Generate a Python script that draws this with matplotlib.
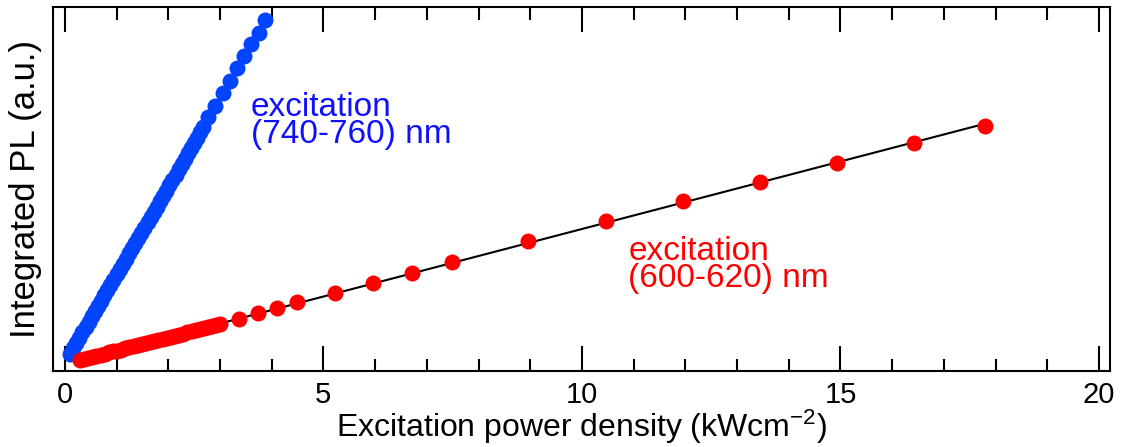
import numpy as np
import matplotlib.pyplot as plt
from matplotlib.ticker import MultipleLocator

plt.rcParams['font.family'] = ['Liberation Sans', 'DejaVu Sans']
plt.rcParams['mathtext.default'] = 'regular'

# excitation (740-760) nm, blue
blue_x = [0.10, 0.16, 0.22, 0.28, 0.34, 0.40, 0.46, 0.52, 0.58, 0.64,
          0.70, 0.76, 0.82, 0.88, 0.94, 1.00, 1.06, 1.12, 1.18, 1.24,
          1.30, 1.36, 1.42, 1.48, 1.54, 1.60, 1.66, 1.72, 1.78, 1.84,
          1.90, 1.96, 2.02, 2.08, 2.14, 2.20, 2.26, 2.32, 2.38, 2.44,
          2.50, 2.56, 2.62, 2.68, 2.77, 2.91, 3.05, 3.19, 3.33, 3.47,
          3.60, 3.75, 3.88]
blue_y = [4.7, 6.2, 7.7, 9.2, 10.6, 12.1, 13.5, 15.0, 16.4, 17.9,
          19.3, 20.8, 22.2, 23.7, 25.1, 26.6, 28.0, 29.5, 30.9, 32.3,
          33.8, 35.2, 36.6, 38.0, 39.4, 40.9, 42.3, 43.8, 45.2, 46.7,
          48.1, 49.6, 51.0, 52.5, 54.0, 55.4, 56.9, 58.3, 59.8, 61.2,
          62.7, 64.1, 65.6, 67.0, 69.7, 72.8, 76.3, 79.7, 83.2, 86.5,
          89.8, 92.9, 96.4]

# excitation (600-620) nm, red
red_x = [0.29, 0.37, 0.45, 0.53, 0.61, 0.69, 0.77, 0.85, 0.93, 1.01,
         1.09, 1.17, 1.25, 1.33, 1.41, 1.49, 1.57, 1.65, 1.73, 1.81,
         1.89, 1.97, 2.05, 2.13, 2.21, 2.29, 2.37, 2.45, 2.53, 2.61,
         2.69, 2.77, 2.85, 2.93, 3.00, 3.37, 3.74, 4.11, 4.48, 5.22,
         5.96, 6.72, 7.49, 8.96, 10.46, 11.95, 13.44, 14.93, 16.42, 17.79]
red_y = [3.0, 3.3, 3.6, 3.9, 4.2, 4.5, 4.8, 5.1, 5.4, 5.6,
         5.9, 6.2, 6.5, 6.8, 7.1, 7.4, 7.7, 8.0, 8.3, 8.6,
         8.9, 9.2, 9.4, 9.7, 10.0, 10.3, 10.6, 10.9, 11.2, 11.5,
         11.8, 12.1, 12.4, 12.7, 13.0, 14.3, 15.9, 17.2, 18.9, 21.5,
         24.3, 27.0, 29.9, 35.7, 41.2, 46.7, 51.9, 57.1, 62.6, 67.3]

fig = plt.figure(figsize=(11.22, 4.47), dpi=100)
ax = fig.add_axes([0.0472, 0.170, 0.942, 0.814])

# linear fit through the red points
k, b = np.polyfit(red_x, red_y, 1)
fx = np.array([min(red_x), max(red_x)])
ax.plot(fx, k * fx + b, color='black', lw=1.5, zorder=1)

ax.plot(blue_x, blue_y, 'o', color='#0044ff', ms=11.5, mec='none', zorder=2)
ax.plot(red_x, red_y, 'o', color='#ff0000', ms=11.5, mec='none', zorder=2)

ax.text(3.60, 62.6, 'excitation\n(740-760) nm', color='#1010ff', fontsize=24,
        va='baseline', ha='left', linespacing=0.85)
ax.text(10.90, 23.1, 'excitation\n(600-620) nm', color='#ff0000', fontsize=24,
        va='baseline', ha='left', linespacing=0.85)

ax.set_xlim(-0.23, 20.21)
ax.set_ylim(0, 100)
ax.xaxis.set_major_locator(MultipleLocator(5))
ax.xaxis.set_minor_locator(MultipleLocator(1))
ax.tick_params(axis='x', which='both', direction='in', top=True, width=1.5,
               labelsize=21, pad=7)
ax.tick_params(axis='x', which='major', length=18)
ax.tick_params(axis='x', which='minor', length=9)
ax.set_yticks([])
for s in ax.spines.values():
    s.set_linewidth(1.5)

ax.set_xlabel('Excitation power density (kWcm$^{-2}$)', fontsize=23, labelpad=-1)
ax.set_ylabel('Integrated PL (a.u.)', fontsize=25, labelpad=8)

fig.savefig('out.png', dpi=100)
